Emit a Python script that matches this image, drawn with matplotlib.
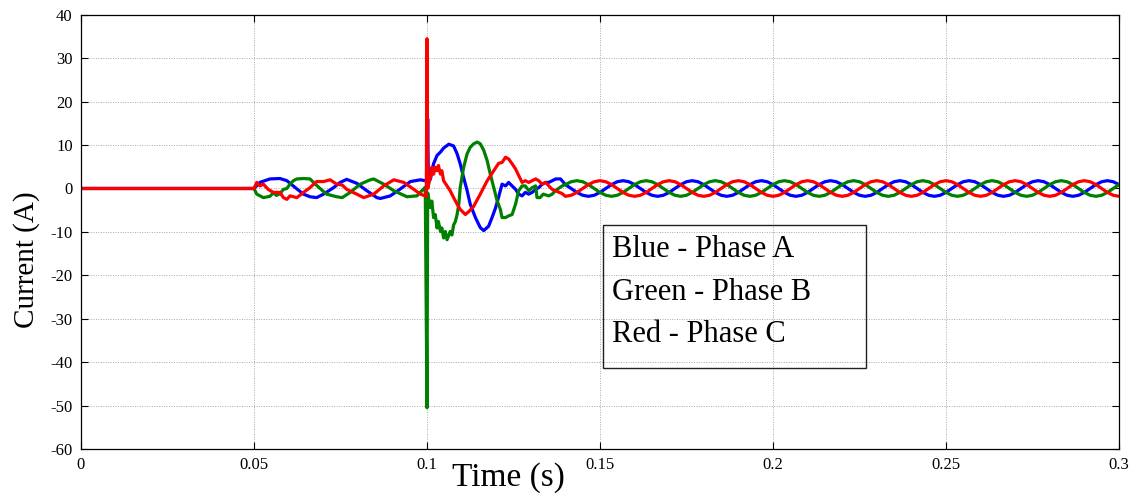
"""
Three-phase current during a fault (MATLAB-style figure)
"""

import matplotlib
matplotlib.use("Agg")
import matplotlib.pyplot as plt
import matplotlib.patches as mpatches
import numpy as np

# ── Data ──────────────────────────────────────────────────────────────────────
# pre-fault ripple (0 - 0.1 s)
BLUE_T_PRE = [0.0, 0.0500, 0.0517, 0.0546, 0.0575, 0.0595, 0.0624, 0.0643, 0.0662, 0.0681,
              0.0701, 0.0730, 0.0749, 0.0768, 0.0797, 0.0826, 0.0855, 0.0865, 0.0894,
              0.0923, 0.0952, 0.0981, 0.0995]
BLUE_I_PRE = [0.0, 0.0, 1.4, 2.2, 2.3, 1.8, -0.1, -1.3, -1.9, -2.1,
              -1.3, 0.2, 1.4, 2.1, 1.2, -0.5, -2.1, -2.3, -1.7,
              -0.1, 1.6, 2.0, 1.8]

GREEN_T_PRE = [0.0, 0.0500, 0.0508, 0.0527, 0.0546, 0.0556, 0.0565, 0.0575, 0.0585, 0.0595,
               0.0604, 0.0614, 0.0624, 0.0643, 0.0662, 0.0672, 0.0691, 0.0710, 0.0739,
               0.0755, 0.0778, 0.0807, 0.0836, 0.0846, 0.0875, 0.0904, 0.0942, 0.0971, 0.0995]
GREEN_I_PRE = [0.0, 0.0, -1.3, -2.1, -1.8, -1.0, -1.6, -1.2, -0.2, 0.0,
               1.0, 1.8, 2.2, 2.3, 2.2, 1.4, 0.0, -1.3, -1.9,
               -2.1, -0.9, 1.0, 2.0, 2.2, 1.0, -0.5, -1.9, -1.7, 0.3]

RED_T_PRE = [0.0, 0.0500, 0.0508, 0.0517, 0.0527, 0.0541, 0.0556, 0.0575, 0.0585, 0.0595,
             0.0604, 0.0624, 0.0643, 0.0662, 0.0681, 0.0701, 0.0720, 0.0739, 0.0755,
             0.0768, 0.0797, 0.0817, 0.0846, 0.0875, 0.0904, 0.0933, 0.0962, 0.0981, 0.0998]
RED_I_PRE = [0.0, 0.0, 1.4, 0.6, 1.0, -0.2, -0.9, -0.9, -2.1, -2.5,
             -1.7, -2.1, -0.9, 0.2, 1.6, 1.6, 2.0, 1.0, 0.8,
             -0.2, -1.3, -2.1, -1.3, 0.6, 2.0, 1.4, -0.2, -1.3, -1.8]

# fault transient (0.1 - 0.14 s)
BLUE_T_TR = [0.1000, 0.1002, 0.1004, 0.1010, 0.1019, 0.1029, 0.1039, 0.1048, 0.1063, 0.1077,
             0.1087, 0.1096, 0.1106, 0.1116, 0.1125, 0.1140, 0.1154, 0.1164, 0.1178, 0.1188,
             0.1198, 0.1207, 0.1217, 0.1227, 0.1236, 0.1246, 0.1256, 0.1265, 0.1275, 0.1284,
             0.1294, 0.1304, 0.1314, 0.1323, 0.1333, 0.1343, 0.1352, 0.1362, 0.1372, 0.1386]
BLUE_I_TR = [1.8, 16.0, 1.5, 2.2, 5.7, 7.6, 8.4, 9.3, 10.2, 9.8,
             8.0, 5.7, 2.5, -0.5, -3.6, -6.7, -9.0, -9.7, -8.7, -6.7,
             -4.5, -2.0, 1.0, 0.6, 1.4, 0.6, -0.2, -1.3, -1.7, -0.9,
             -1.3, -0.9, -0.2, 0.2, 1.0, 1.4, 1.4, 1.8, 2.2, 2.2]

GREEN_T_TR = [0.1000, 0.1002, 0.1010, 0.1014, 0.1019, 0.1024, 0.1029, 0.1033, 0.1039, 0.1043,
              0.1048, 0.1053, 0.1058, 0.1067, 0.1072, 0.1077, 0.1082, 0.1087, 0.1092, 0.1096,
              0.1101, 0.1106, 0.1116, 0.1125, 0.1135, 0.1145, 0.1154, 0.1164, 0.1174, 0.1183,
              0.1193, 0.1203, 0.1212, 0.1217, 0.1227, 0.1236, 0.1246, 0.1256, 0.1265, 0.1275,
              0.1284, 0.1294, 0.1304, 0.1314, 0.1318, 0.1327, 0.1336, 0.1352, 0.1362, 0.1371,
              0.1391]
GREEN_I_TR = [-50.5, -1.0, -4.4, -2.9, -6.7, -6.0, -9.1, -7.6, -9.9, -9.1,
              -11.4, -9.9, -11.8, -9.9, -10.7, -8.4, -7.6, -6.0, -3.6, 0.2,
              2.6, 4.9, 8.0, 9.5, 10.3, 10.7, 10.3, 8.8, 6.4, 3.3,
              0.2, -2.9, -4.8, -6.7, -6.7, -6.3, -6.0, -3.6, -0.5, 0.6,
              0.6, -0.5, 0.2, 0.6, -2.1, -2.1, -1.3, -1.7, -1.3, -0.5,
              0.6]

RED_T_TR = [0.1000, 0.1002, 0.1010, 0.1014, 0.1019, 0.1024, 0.1029, 0.1033, 0.1039, 0.1043,
            0.1048, 0.1058, 0.1067, 0.1077, 0.1087, 0.1096, 0.1111, 0.1121, 0.1135, 0.1154,
            0.1174, 0.1193, 0.1207, 0.1217, 0.1227, 0.1236, 0.1246, 0.1256, 0.1265, 0.1275,
            0.1284, 0.1294, 0.1314, 0.1323, 0.1333, 0.1343, 0.1352, 0.1362, 0.1371, 0.1391]
RED_I_TR = [34.5, 0.0, 2.6, 4.9, 3.3, 4.9, 4.1, 5.3, 3.3, 4.1,
            1.8, 0.6, -0.5, -2.1, -3.6, -4.8, -6.0, -5.3, -4.1, -1.3,
            1.8, 4.1, 5.8, 6.0, 7.2, 6.8, 5.7, 4.5, 3.0, 1.4,
            1.8, 1.4, 2.2, 1.8, 1.0, 1.4, 0.6, -0.2, -0.5, -1.2]

# steady state after clearing (0.14 - 0.30 s), sampled every 1/600 s
T_STEADY = np.linspace(0.14, 0.30, 97)
BLUE_I_SS = [
    0.9, 0.0, -0.9, -1.56, -1.8, -1.56, -0.9, 0.0, 0.9, 1.56, 1.8, 1.56,
    0.9, 0.0, -0.9, -1.56, -1.8, -1.56, -0.9, 0.0, 0.9, 1.56, 1.8, 1.56,
    0.9, 0.0, -0.9, -1.56, -1.8, -1.56, -0.9, 0.0, 0.9, 1.56, 1.8, 1.56,
    0.9, 0.0, -0.9, -1.56, -1.8, -1.56, -0.9, 0.0, 0.9, 1.56, 1.8, 1.56,
    0.9, 0.0, -0.9, -1.56, -1.8, -1.56, -0.9, 0.0, 0.9, 1.56, 1.8, 1.56,
    0.9, 0.0, -0.9, -1.56, -1.8, -1.56, -0.9, 0.0, 0.9, 1.56, 1.8, 1.56,
    0.9, 0.0, -0.9, -1.56, -1.8, -1.56, -0.9, 0.0, 0.9, 1.56, 1.8, 1.56,
    0.9, 0.0, -0.9, -1.56, -1.8, -1.56, -0.9, 0.0, 0.9, 1.56, 1.8, 1.56,
    0.9]
GREEN_I_SS = [
    0.9, 1.56, 1.8, 1.56, 0.9, 0.0, -0.9, -1.56, -1.8, -1.56, -0.9, 0.0,
    0.9, 1.56, 1.8, 1.56, 0.9, 0.0, -0.9, -1.56, -1.8, -1.56, -0.9, 0.0,
    0.9, 1.56, 1.8, 1.56, 0.9, 0.0, -0.9, -1.56, -1.8, -1.56, -0.9, 0.0,
    0.9, 1.56, 1.8, 1.56, 0.9, 0.0, -0.9, -1.56, -1.8, -1.56, -0.9, 0.0,
    0.9, 1.56, 1.8, 1.56, 0.9, 0.0, -0.9, -1.56, -1.8, -1.56, -0.9, 0.0,
    0.9, 1.56, 1.8, 1.56, 0.9, 0.0, -0.9, -1.56, -1.8, -1.56, -0.9, 0.0,
    0.9, 1.56, 1.8, 1.56, 0.9, 0.0, -0.9, -1.56, -1.8, -1.56, -0.9, 0.0,
    0.9, 1.56, 1.8, 1.56, 0.9, 0.0, -0.9, -1.56, -1.8, -1.56, -0.9, 0.0,
    0.9]
RED_I_SS = [
    -1.8, -1.56, -0.9, 0.0, 0.9, 1.56, 1.8, 1.56, 0.9, 0.0, -0.9, -1.56,
    -1.8, -1.56, -0.9, 0.0, 0.9, 1.56, 1.8, 1.56, 0.9, 0.0, -0.9, -1.56,
    -1.8, -1.56, -0.9, 0.0, 0.9, 1.56, 1.8, 1.56, 0.9, 0.0, -0.9, -1.56,
    -1.8, -1.56, -0.9, 0.0, 0.9, 1.56, 1.8, 1.56, 0.9, 0.0, -0.9, -1.56,
    -1.8, -1.56, -0.9, 0.0, 0.9, 1.56, 1.8, 1.56, 0.9, 0.0, -0.9, -1.56,
    -1.8, -1.56, -0.9, 0.0, 0.9, 1.56, 1.8, 1.56, 0.9, 0.0, -0.9, -1.56,
    -1.8, -1.56, -0.9, 0.0, 0.9, 1.56, 1.8, 1.56, 0.9, 0.0, -0.9, -1.56,
    -1.8, -1.56, -0.9, 0.0, 0.9, 1.56, 1.8, 1.56, 0.9, 0.0, -0.9, -1.56,
    -1.8]

X_TICKS = [0, 0.05, 0.1, 0.15, 0.2, 0.25, 0.3]
X_TICK_LABELS = ["0", "0.05", "0.1", "0.15", "0.2", "0.25", "0.3"]
Y_TICKS = [-60, -50, -40, -30, -20, -10, 0, 10, 20, 30, 40]
LEGEND_LINES = ["Blue - Phase A", "Green - Phase B", "Red - Phase C"]

# ── Style ─────────────────────────────────────────────────────────────────────
SERIF = ["Liberation Serif", "DejaVu Serif"]
plt.rcParams["font.family"] = SERIF
plt.rcParams["axes.unicode_minus"] = False

phases = [
    (BLUE_T_PRE + BLUE_T_TR + list(T_STEADY), BLUE_I_PRE + BLUE_I_TR + BLUE_I_SS, "#0000ff"),
    (GREEN_T_PRE + GREEN_T_TR + list(T_STEADY), GREEN_I_PRE + GREEN_I_TR + GREEN_I_SS, "#008000"),
    (RED_T_PRE + RED_T_TR + list(T_STEADY), RED_I_PRE + RED_I_TR + RED_I_SS, "#ff0000"),
]

fig = plt.figure(figsize=(11.36, 4.95), dpi=100)
ax = fig.add_axes([0.0713, 0.093, 0.9137, 0.877])

for t, i, c in phases:
    ax.plot(t, i, color=c, linewidth=2.3)

ax.set_xlim(0, 0.3)
ax.set_ylim(-60, 40)
ax.set_xticks(X_TICKS)
ax.set_xticklabels(X_TICK_LABELS)
ax.set_yticks(Y_TICKS)
ax.tick_params(direction="in", top=True, right=True, length=5, width=0.8,
               labelsize=12, pad=6)
ax.grid(True, linestyle=(0, (1, 1.5)), color="#a8a8a8", linewidth=0.7)
for s in ax.spines.values():
    s.set_linewidth(0.9)

ax.set_xlabel("Time (s)", fontsize=24)
ax.xaxis.set_label_coords(0.412, -0.065)
ax.xaxis.label.set_va("center")
ax.set_ylabel("Current (A)", fontsize=21)
ax.yaxis.set_label_coords(-0.052, 0.435)
ax.yaxis.label.set_va("center")

# text box standing in for the legend
box = mpatches.Rectangle((0.503, 0.187), 0.253, 0.329, transform=ax.transAxes,
                         facecolor="none", edgecolor="#202020", linewidth=1.0, zorder=5)
ax.add_patch(box)
for k, line in enumerate(LEGEND_LINES):
    ax.text(0.512, 0.459 - k * 0.098, line, transform=ax.transAxes,
            fontsize=22, ha="left", va="center", zorder=6)

fig.savefig("out.png", dpi=100)
